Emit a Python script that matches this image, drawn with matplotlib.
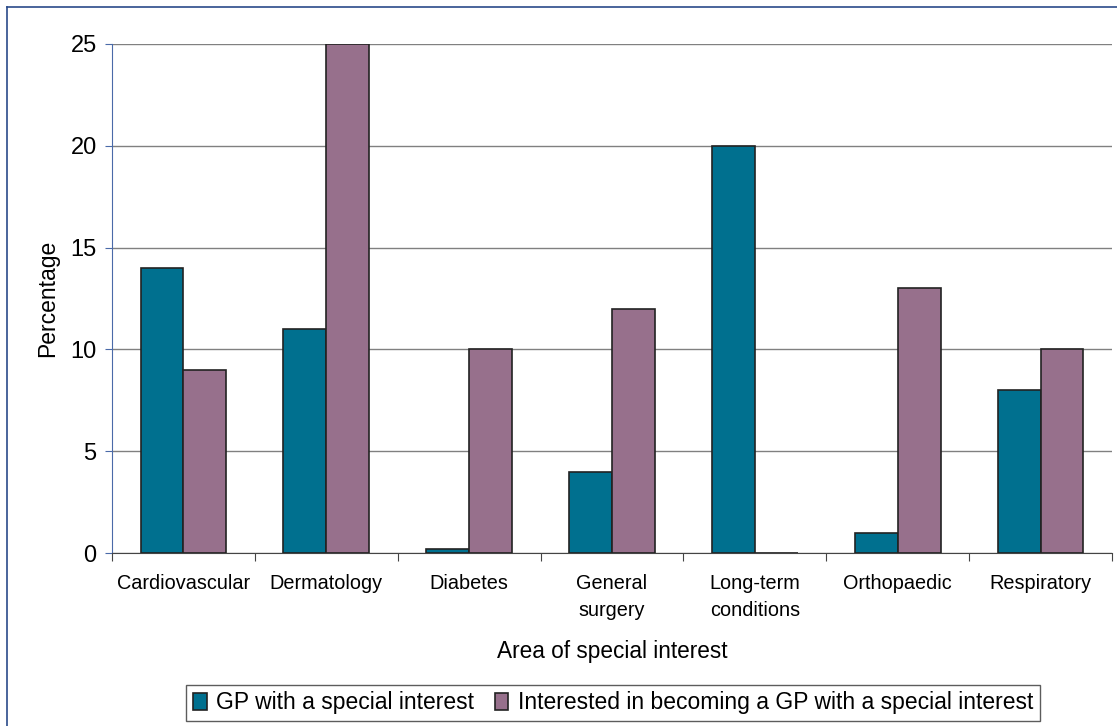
import matplotlib.pyplot as plt
import numpy as np
from matplotlib.lines import Line2D

plt.rcParams['font.family'] = ['Liberation Sans', 'DejaVu Sans']

categories = ["Cardiovascular", "Dermatology", "Diabetes", "General\nsurgery",
              "Long-term\nconditions", "Orthopaedic", "Respiratory"]
gpsi = [14, 11, 0.2, 4, 20, 1, 8]
interested = [9, 25, 10, 12, 0, 13, 10]
yticks = [0, 5, 10, 15, 20, 25]

teal = '#00708F'
purple = '#97708C'

W, H = 1117, 726
fig = plt.figure(figsize=(W / 100, H / 100), dpi=100)
ax = fig.add_axes([112 / W, 1 - 553 / H, 1000 / W, (553 - 44) / H])

x = np.arange(len(categories))
bw = 0.3
ax.bar(x - bw / 2, gpsi, bw, color=teal, edgecolor='#222222', linewidth=1.2,
       label='GP with a special interest', zorder=3)
ax.bar(x + bw / 2, interested, bw, color=purple, edgecolor='#222222', linewidth=1.2,
       label='Interested in becoming a GP with a special interest', zorder=3)

ax.set_xlim(-0.5, len(categories) - 0.5)
ax.set_ylim(0, 25)
ax.set_yticks(yticks)
ax.yaxis.grid(True, color='#808080', linewidth=1.0, zorder=0)
ax.set_axisbelow(True)

# category ticks sit between groups
ax.set_xticks(np.arange(len(categories) + 1) - 0.5)
ax.set_xticklabels([])
ax.set_xticks(x, minor=True)
ax.set_xticklabels(categories, minor=True, fontsize=14.3, linespacing=1.55)
ax.tick_params(axis='x', which='minor', length=0, pad=15)
ax.tick_params(axis='x', which='major', length=6, color='#444444')
ax.tick_params(axis='y', length=5, color='#4a6aa8', labelsize=17, pad=6)

for s in ['top', 'right']:
    ax.spines[s].set_visible(False)
ax.spines['left'].set_color('#4a6aa8')
ax.spines['bottom'].set_color('#444444')

ax.set_ylabel('Percentage', fontsize=16.5, labelpad=8)
ax.set_xlabel('Area of special interest', fontsize=16.3, labelpad=14)

leg = fig.legend(loc='center', bbox_to_anchor=(613 / W, 1 - 703 / H), ncol=2,
                 fontsize=16.5, frameon=True, fancybox=False, edgecolor='#333333',
                 handlelength=0.6, handleheight=0.7, handletextpad=0.4,
                 columnspacing=0.9, borderpad=0.3)
leg.get_frame().set_linewidth(1.0)

# thin outer frame along top and left
fig.add_artist(Line2D([7 / W, 1], [1 - 7 / H, 1 - 7 / H], color='#2a4a8a', linewidth=1.2))
fig.add_artist(Line2D([7 / W, 7 / W], [0, 1 - 7 / H], color='#2a4a8a', linewidth=1.2))

fig.savefig('out.png', dpi=100)
